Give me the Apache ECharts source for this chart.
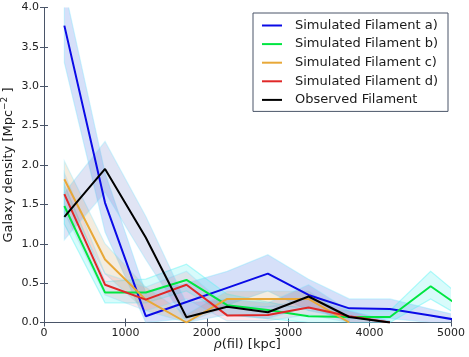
<!DOCTYPE html>
<html><head><meta charset="utf-8">
<script src="https://cdn.jsdelivr.net/npm/echarts@6/dist/echarts.min.js"></script>
<style>html,body{margin:0;padding:0;background:#fff}#c{width:469px;height:357px}</style>
</head><body><div id="c"></div>
<script>
const xs = [250, 750, 1250, 1750, 2250, 2750, 3250, 3750, 4250, 4750, 5250];
const names = ['Simulated Filament a)', 'Simulated Filament b)', 'Simulated Filament c)', 'Simulated Filament d)', 'Observed Filament'];
const xTicks = [0, 1000, 2000, 3000, 4000, 5000];
const yTicks = [0, 0.5, 1, 1.5, 2, 2.5, 3, 3.5, 4];

const simA     = [3.77, 1.52, 0.08, 0.26, 0.44, 0.62, 0.35, 0.18, 0.17, 0.09, 0.00];
const simALow  = [3.30, 1.15, 0.00, 0.05, 0.22, 0.40, 0.15, 0.05, 0.05, 0.00, 0.00];
const simAHigh = [4.25, 1.90, 0.38, 0.50, 0.65, 0.86, 0.55, 0.30, 0.30, 0.17, 0.05];

const simB     = [1.48, 0.38, 0.38, 0.54, 0.22, 0.16, 0.08, 0.07, 0.07, 0.46, 0.10];
const simBLow  = [1.25, 0.25, 0.25, 0.40, 0.10, 0.05, 0.00, 0.00, 0.00, 0.30, 0.00];
const simBHigh = [1.75, 0.52, 0.55, 0.74, 0.36, 0.26, 0.16, 0.15, 0.15, 0.65, 0.22];

const simC     = [1.82, 0.80, 0.29, 0.00, 0.30, 0.30, 0.30, 0.00, null, null, null];
const simCLow  = [1.60, 0.62, 0.15, 0.00, 0.20, 0.20, 0.20, 0.00, null, null, null];
const simCHigh = [2.05, 1.00, 0.45, 0.10, 0.40, 0.40, 0.40, 0.05, null, null, null];

const simD     = [1.63, 0.48, 0.29, 0.48, 0.09, 0.095, 0.19, 0.08, 0.00, null, null];
const simDLow  = [1.40, 0.35, 0.15, 0.30, 0.02, 0.02, 0.10, 0.00, 0.00, null, null];
const simDHigh = [1.90, 0.62, 0.45, 0.65, 0.20, 0.20, 0.30, 0.15, 0.02, null, null];

const obs      = [1.34, 1.95, 1.08, 0.066, 0.20, 0.13, 0.33, 0.07, 0.00, null, null];
const obsLow   = [1.05, 1.65, 0.80, 0.00, 0.10, 0.05, 0.20, 0.00, 0.00, null, null];
const obsHigh  = [1.65, 2.30, 1.35, 0.25, 0.30, 0.25, 0.48, 0.15, 0.02, null, null];

const lineColors = ['#0a0ae6', '#00e641', '#e8a838', '#e02828', '#000000'];
const bandColors = ['rgba(90,130,230,0.25)', 'rgba(60,235,235,0.20)', 'rgba(200,160,90,0.20)', 'rgba(235,110,150,0.16)', 'rgba(100,120,200,0.20)'];
const edgeColors = ['rgba(120,230,255,0.35)', 'rgba(90,245,245,0.45)', 'rgba(120,230,255,0.3)', 'rgba(120,230,255,0.3)', 'rgba(120,230,255,0.3)'];
const values = [simA, simB, simC, simD, obs];
const lows = [simALow, simBLow, simCLow, simDLow, obsLow];
const highs = [simAHigh, simBHigh, simCHigh, simDHigh, obsHigh];

const series = [];
for (let i = 0; i < 5; i++) {
  const data = [];
  xs.forEach((x, k) => { if (lows[i][k] != null) data.push([x, lows[i][k], highs[i][k]]); });
  series.push({
    type: 'custom', name: 'band' + i, silent: true, clip: true, z: 1,
    data: data,
    encode: { x: 0, y: [1, 2] },
    renderItem: (params, api) => {
      if (params.dataIndexInside !== 0) return null;
      const n = params.dataInsideLength;
      const top = [], bot = [];
      for (let k = 0; k < n; k++) {
        const x = api.value(0, k);
        top.push(api.coord([x, api.value(2, k)]));
        bot.push(api.coord([x, api.value(1, k)]));
      }
      const pts = top.concat(bot.reverse());
      return {
        type: 'polygon',
        shape: { points: pts },
        style: { fill: bandColors[i], stroke: edgeColors[i], lineWidth: 1.2 }
      };
    }
  });
}
for (let i = 0; i < 5; i++) {
  series.push({
    type: 'line', name: names[i], symbol: 'none', z: 5,
    color: lineColors[i],
    lineStyle: { width: 2, color: lineColors[i] },
    data: xs.map((x, k) => [x, values[i][k]])
  });
}

const axisCol = '#4a5568';
const tickStyle = { show: true, inside: true, length: 4, lineStyle: { color: axisCol } };
const chart = echarts.init(document.getElementById('c'));
chart.setOption({
  animation: false,
  backgroundColor: '#fff',
  grid: { left: 44, right: 18, top: 7.5, bottom: 34.5, containLabel: false, outerBoundsMode: 'none' },
  legend: {
    data: names, orient: 'vertical', left: 253, top: 13, z: 10,
    backgroundColor: '#fff',
    borderColor: axisCol, borderWidth: 1, borderRadius: 0,
    padding: [5, 10, 4, 9], itemGap: 3.6,
    icon: 'rect', itemWidth: 20, itemHeight: 2,
    textStyle: { fontFamily: 'DejaVu Sans', fontSize: 13, color: '#1a1a1a', lineHeight: 15, padding: [0, 0, 0, 8] }
  },
  xAxis: [{
    type: 'value', min: 0, max: 5000, interval: 1000, position: 'bottom',
    name: '{r|ρ}(fil) [kpc]', nameLocation: 'middle', nameGap: 16, nameMoveOverlap: false,
    nameTextStyle: { fontFamily: 'DejaVu Sans', fontSize: 13, color: '#1a1a1a', rich: { r: { fontStyle: 'italic', fontFamily: 'DejaVu Serif', fontSize: 13, color: '#1a1a1a' } } },
    axisLine: { show: true, lineStyle: { color: axisCol, width: 1 } },
    axisTick: tickStyle, splitLine: { show: false },
    axisLabel: { fontFamily: 'DejaVu Sans', fontSize: 11, color: '#222', margin: 5, formatter: v => xTicks.includes(v) ? String(v) : '' }
  }, {
    type: 'value', min: 0, max: 5000, interval: 1000, position: 'top',
    axisLine: { show: true, lineStyle: { color: axisCol, width: 1 } },
    axisTick: tickStyle, splitLine: { show: false }, axisLabel: { show: false }
  }],
  yAxis: [{
    type: 'value', min: 0, max: 4, interval: 0.5, position: 'left',
    name: 'Galaxy density [Mpc{sup|−2} ]', nameLocation: 'middle', nameGap: 27, nameMoveOverlap: false,
    nameTextStyle: { fontFamily: 'DejaVu Sans', fontSize: 13, color: '#1a1a1a', rich: { sup: { fontSize: 9, fontFamily: 'DejaVu Sans', verticalAlign: 'top', padding: [0, 0, 8, 0], color: '#1a1a1a' } } },
    axisLine: { show: true, lineStyle: { color: axisCol, width: 1 } },
    axisTick: tickStyle, splitLine: { show: false },
    axisLabel: { fontFamily: 'DejaVu Sans', fontSize: 11, color: '#222', margin: 5, formatter: v => yTicks.includes(v) ? v.toFixed(1) : '' }
  }, {
    type: 'value', min: 0, max: 4, interval: 0.5, position: 'right',
    axisLine: { show: true, lineStyle: { color: axisCol, width: 1 } },
    axisTick: tickStyle, splitLine: { show: false }, axisLabel: { show: false }
  }],
  series: series
});
</script>
</body></html>
